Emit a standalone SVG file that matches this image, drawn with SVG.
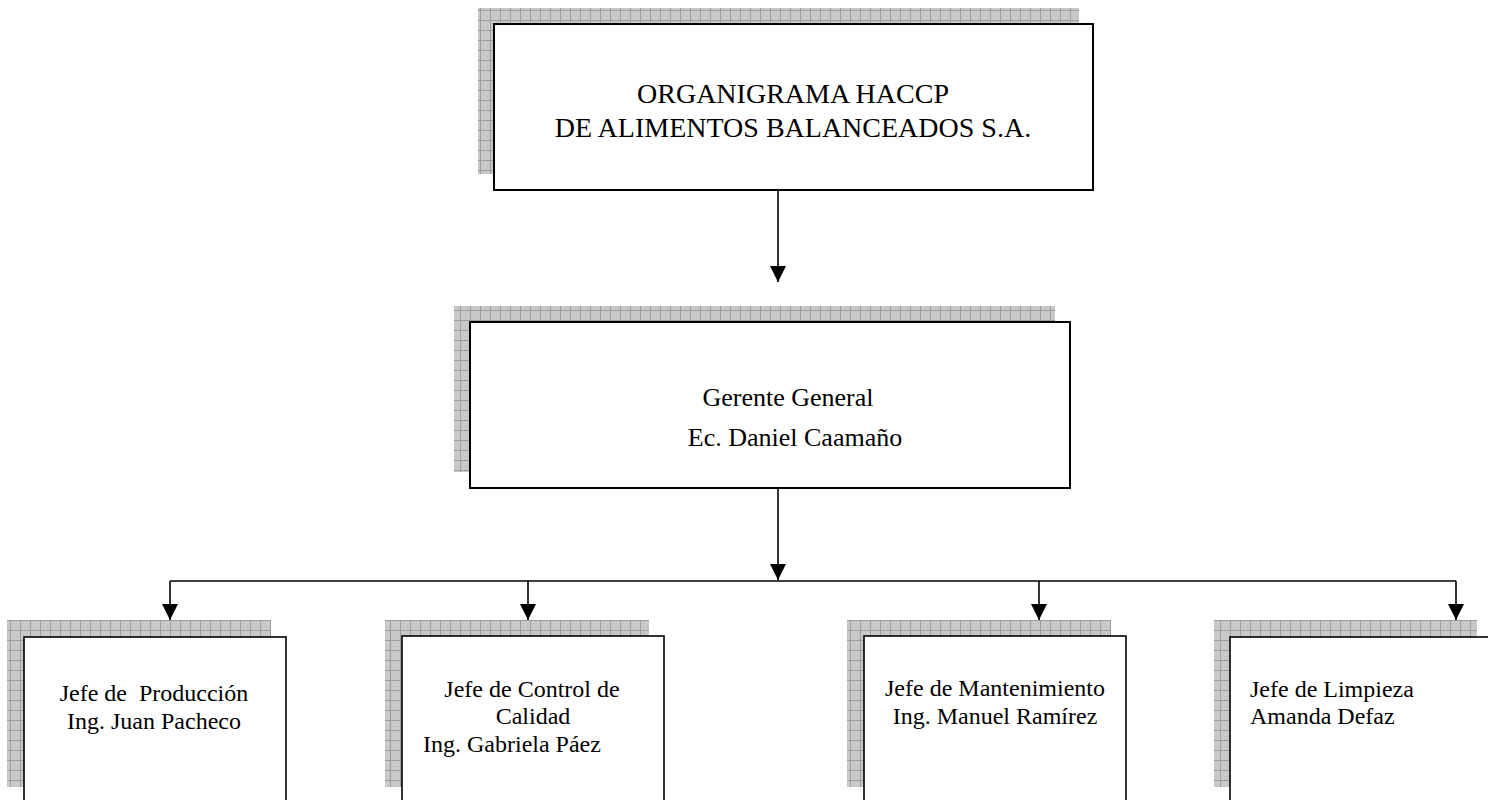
<svg xmlns="http://www.w3.org/2000/svg" width="1488" height="800" viewBox="0 0 1488 800">
  <style>
    .box { fill: #ffffff; stroke: #000000; stroke-width: 2; }
    .sbox { fill: #ffffff; stroke: #000000; stroke-width: 1.6; }
    .shadow { fill: url(#grid); }
    .t { font-family: "Liberation Serif", "Times New Roman", serif; fill: #000000; }
    .big { font-size: 28px; }
    .mid { font-size: 26px; }
    .small { font-size: 24px; }
    .conn { stroke: #000000; stroke-width: 1.6; fill: none; }
  </style>
  <defs>
    <pattern id="grid" patternUnits="userSpaceOnUse" width="10" height="10">
      <rect x="0" y="0" width="10" height="10" fill="#c9c9c9"/>
      <path d="M0 0.5 H10 M0.5 0 V10" stroke="#9c9c9c" stroke-width="1"/>
      <rect x="3" y="3" width="1" height="1" fill="#b8b8b8"/>
      <rect x="7" y="6" width="1" height="1" fill="#b8b8b8"/>
    </pattern>
    <marker id="arrow" markerWidth="16" markerHeight="16" refX="16" refY="8" orient="auto" markerUnits="userSpaceOnUse">
      <path d="M0 0 L16 8 L0 16 Z" fill="#000000"/>
    </marker>
  </defs>

  <g id="connectors">
    <line class="conn" x1="778" y1="190" x2="778" y2="282" marker-end="url(#arrow)"/>
    <line class="conn" x1="778" y1="488" x2="778" y2="580" marker-end="url(#arrow)"/>
    <line class="conn" x1="170" y1="581" x2="1456" y2="581"/>
    <line class="conn" x1="170" y1="581" x2="170" y2="620" marker-end="url(#arrow)"/>
    <line class="conn" x1="528" y1="581" x2="528" y2="620" marker-end="url(#arrow)"/>
    <line class="conn" x1="1039" y1="581" x2="1039" y2="620" marker-end="url(#arrow)"/>
    <line class="conn" x1="1456" y1="581" x2="1456" y2="620" marker-end="url(#arrow)"/>
  </g>

  <g id="node-organigrama">
    <rect class="shadow" x="478" y="8" width="601" height="166"/>
    <rect class="box" x="494" y="24" width="599" height="166"/>
    <text class="t big" x="793" y="103" text-anchor="middle">ORGANIGRAMA HACCP</text>
    <text class="t big" x="793" y="137" text-anchor="middle">DE ALIMENTOS BALANCEADOS S.A.</text>
  </g>

  <g id="node-gerente">
    <rect class="shadow" x="454" y="306" width="601" height="166"/>
    <rect class="box" x="470" y="322" width="600" height="166"/>
    <text class="t mid" x="788" y="406" text-anchor="middle">Gerente General</text>
    <text class="t mid" x="795" y="446" text-anchor="middle">Ec. Daniel Caamaño</text>
  </g>

  <g id="node-produccion">
    <rect class="shadow" x="7" y="620" width="264" height="167"/>
    <rect class="sbox" x="24" y="637" width="262" height="180"/>
    <text class="t small" x="154" y="701" text-anchor="middle" xml:space="preserve">Jefe de  Producción</text>
    <text class="t small" x="154" y="729" text-anchor="middle">Ing. Juan Pacheco</text>
  </g>

  <g id="node-calidad">
    <rect class="shadow" x="385" y="620" width="264" height="167"/>
    <rect class="sbox" x="402" y="636" width="262" height="180"/>
    <text class="t small" x="532" y="697" text-anchor="middle">Jefe de Control de</text>
    <text class="t small" x="533" y="724" text-anchor="middle">Calidad</text>
    <text class="t small" x="423" y="752">Ing. Gabriela Páez</text>
  </g>

  <g id="node-mantenimiento">
    <rect class="shadow" x="847" y="620" width="264" height="167"/>
    <rect class="sbox" x="864" y="636" width="262" height="180"/>
    <text class="t small" x="995" y="696" text-anchor="middle">Jefe de Mantenimiento</text>
    <text class="t small" x="995" y="724" text-anchor="middle">Ing. Manuel Ramírez</text>
  </g>

  <g id="node-limpieza">
    <rect class="shadow" x="1214" y="620" width="263" height="167"/>
    <rect class="sbox" x="1230" y="637" width="262" height="180"/>
    <text class="t small" x="1250" y="697">Jefe de Limpieza</text>
    <text class="t small" x="1250" y="724">Amanda Defaz</text>
  </g>
</svg>
